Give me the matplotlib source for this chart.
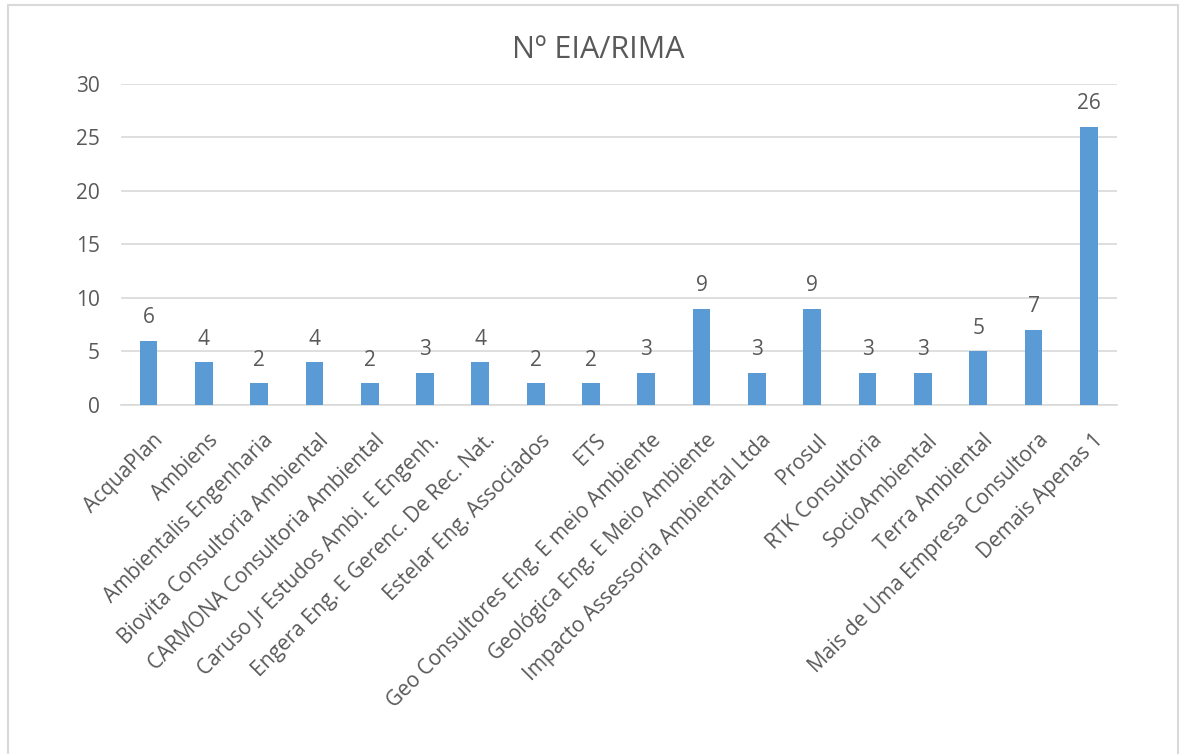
import matplotlib.pyplot as plt
import matplotlib.transforms as mtransforms
from matplotlib.patches import Rectangle

# ----------------------------
# DATA
# ----------------------------
empresas = [
    "AcquaPlan",
    "Ambiens",
    "Ambientalis Engenharia",
    "Biovita Consultoria Ambiental",
    "CARMONA Consultoria Ambiental",
    "Caruso Jr Estudos Ambi. E Engenh.",
    "Engera Eng. E Gerenc. De Rec. Nat.",
    "Estelar Eng. Associados",
    "ETS",
    "Geo Consultores Eng. E meio Ambiente",
    "Geológica Eng. E Meio Ambiente",
    "Impacto Assessoria Ambiental Ltda",
    "Prosul",
    "RTK Consultoria",
    "SocioAmbiental",
    "Terra Ambiental",
    "Mais de Uma Empresa Consultora",
    "Demais Apenas 1",
]
n_eia = [6, 4, 2, 4, 2, 3, 4, 2, 2, 3, 9, 3, 9, 3, 3, 5, 7, 26]

titulo = "Nº EIA/RIMA"

# ----------------------------
# STYLE
# ----------------------------
plt.rcParams["font.family"] = ["Open Sans", "DejaVu Sans"]
txt = "#595959"
bar_color = "#5B9BD5"
grid_color = "#D9D9D9"

fig = plt.figure(figsize=(11.84, 7.54), dpi=100)
ax = fig.add_axes([0.102, 0.463, 0.841, 0.426])

x = range(len(empresas))
bars = ax.bar(x, n_eia, width=0.32, color=bar_color, zorder=3)

for b, v in zip(bars, n_eia):
    ax.annotate(str(v), (b.get_x() + b.get_width() / 2, v),
                xytext=(0, 9), textcoords="offset points",
                ha="center", va="bottom", fontsize=15, color=txt)

ax.set_xlim(-0.5, len(empresas) - 0.5)
ax.set_ylim(0, 30)
ax.set_yticks(range(0, 31, 5))
ax.yaxis.grid(True, color=grid_color, linewidth=1.2, zorder=0)

ax.set_xticks(list(x))
ax.set_xticklabels(empresas, rotation=45, ha="right",
                   rotation_mode="anchor", fontsize=15, color=txt)
ax.tick_params(axis="y", labelsize=15, labelcolor=txt, length=0, pad=15)
ax.tick_params(axis="x", length=0, pad=18)

# nudge the rotated labels a little to the right, like Excel does
shift = mtransforms.ScaledTranslation(4 / 100, 0, fig.dpi_scale_trans)
for lbl in ax.get_xticklabels():
    lbl.set_transform(lbl.get_transform() + shift)

for s in ["top", "right", "left"]:
    ax.spines[s].set_visible(False)
ax.spines["bottom"].set_color(grid_color)
ax.spines["bottom"].set_linewidth(1.2)

fig.text(598 / 1184, 1 - 58 / 754, titulo, ha="center", va="baseline",
         fontsize=22, color=txt)

# chart border
fig.patches.append(Rectangle((8 / 1184, -0.01), 1170 / 1184, 1 - 5 / 754 + 0.01,
                             transform=fig.transFigure, fill=False,
                             edgecolor=grid_color, linewidth=1.5))

plt.savefig("out.png", dpi=100)
